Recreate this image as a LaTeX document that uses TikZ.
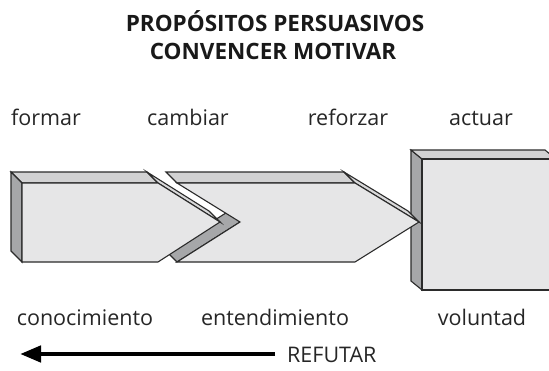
\documentclass[tikz,border=0pt]{standalone}
\usepackage{fontspec}
\setmainfont{Open Sans}
\usetikzlibrary{arrows.meta}
\definecolor{frontc}{HTML}{E6E6E7}
\definecolor{topc}{HTML}{D2D2D3}
\definecolor{sidec}{HTML}{A6A7A9}
\definecolor{stripc}{HTML}{D9D9DA}
\definecolor{edgec}{HTML}{2B2B2B}
\tikzset{
  face/.style={draw=edgec, line width=1.1pt, line join=miter},
  title/.style={font=\bfseries\fontsize{22.5}{26}\selectfont, text=black!90, anchor=base, inner sep=0pt},
  lbl/.style={font=\fontsize{21.5}{25}\selectfont, text=black!85, anchor=base, inner sep=0pt},
}
\begin{document}
\begin{tikzpicture}[x=1pt,y=-1pt]
\useasboundingbox (0,0) rectangle (549,370);
\begin{scope}
\clip (0,0) rectangle (549,370);
% box (voluntad)
\fill[sidec] (422,159) -- (422,290) -- (411,281) -- (411,150) -- cycle;
\draw[face] (422,159) -- (422,290) -- (411,281) -- (411,150) -- cycle;
\filldraw[face, fill=topc] (422,159) -- (556,159) -- (545,150) -- (411,150) -- cycle;
\filldraw[face, fill=frontc] (422,159) -- (556,159) -- (556,290) -- (422,290) -- cycle;
\end{scope}
% second shape (entendimiento)
\filldraw[face, fill=topc] (177,183) -- (355,183) -- (344,172) -- (166,172) -- cycle;
\filldraw[face, fill=stripc] (355,183) -- (419,222) -- (408,211) -- (344,172) -- cycle;
\filldraw[face, fill=sidec] (240,222) -- (177,262) -- (166,251) -- (229,211) -- cycle;
\filldraw[face, fill=frontc] (177,183) -- (355,183) -- (419,222) -- (355,262) -- (177,262) -- (240,222) -- cycle;
% first shape (conocimiento)
\filldraw[face, fill=topc] (22,183) -- (158,183) -- (147,172) -- (11,172) -- cycle;
\filldraw[face, fill=sidec] (22,183) -- (22,262) -- (11,251) -- (11,172) -- cycle;
\filldraw[face, fill=stripc] (158,183) -- (220,222) -- (209,211) -- (147,172) -- cycle;
\filldraw[face, fill=frontc] (22,183) -- (158,183) -- (220,222) -- (158,262) -- (22,262) -- cycle;
% texts
\node[title] (t1) at (275,31) {PROPÓSITOS PERSUASIVOS};
\node[title] (t2) at (273,59) {CONVENCER MOTIVAR};
\node[lbl] (formar) at (46,125) {formar};
\node[lbl] (cambiar) at (188,125) {cambiar};
\node[lbl] (reforzar) at (348,125) {reforzar};
\node[lbl] (actuar) at (481,125) {actuar};
\node[lbl] (cono) at (85,325) {conocimiento};
\node[lbl] (ente) at (275,325) {entendimiento};
\node[lbl] (volu) at (482,325) {voluntad};
\node[lbl, anchor=base west] (refu) at (287,362) {REFUTAR};
\coordinate (arrEnd) at (20,354);
\draw[line width=4.5pt, -{Triangle[length=21pt,width=16pt]}] (refu.west |- 0,354) ++(-12,0) -- (arrEnd);
\end{tikzpicture}
\end{document}
